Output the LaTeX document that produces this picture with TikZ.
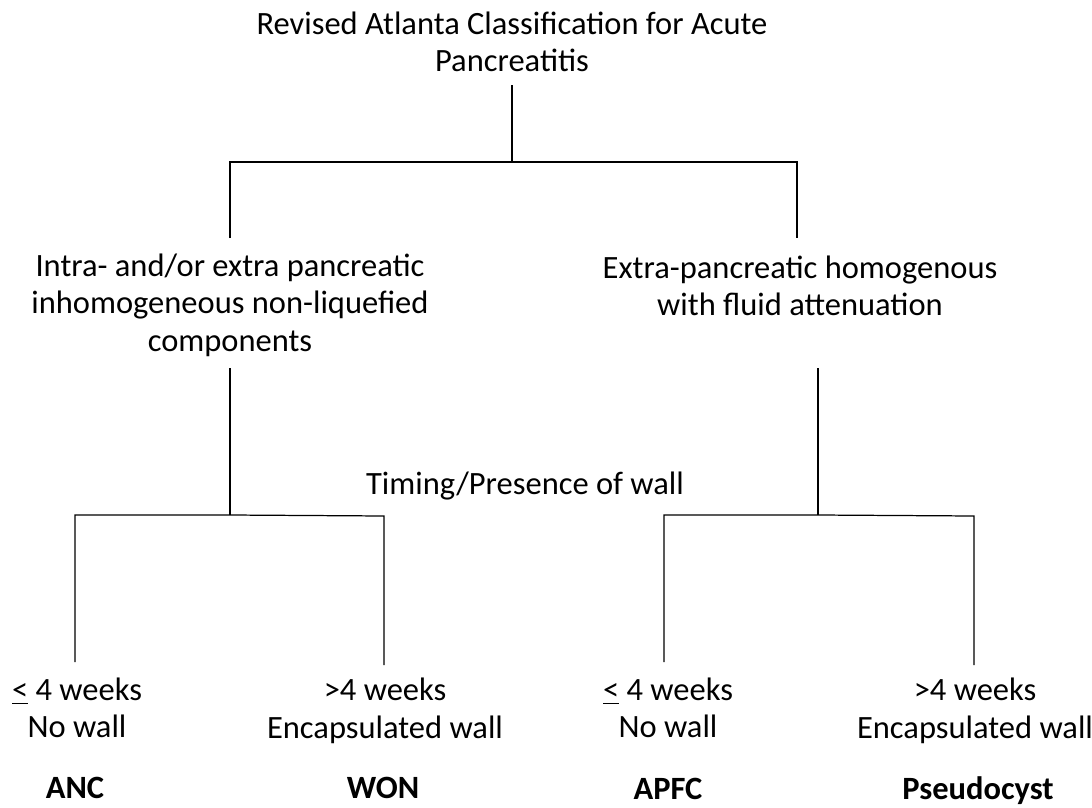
\documentclass[tikz,border=0pt]{standalone}
\usepackage{fontspec}
\setmainfont{Carlito}
\usetikzlibrary{positioning}
\tikzset{
  label/.style={align=center,inner sep=0pt,font=\fontsize{18.5}{21.3}\selectfont},
  result/.style={anchor=base,inner sep=0pt,font=\fontsize{18.5}{21.3}\selectfont\bfseries},
  branch/.style={draw=black,line width=0.7pt}
}

\begin{document}
\begin{tikzpicture}[x=0.02cm,y=-0.02cm]
  \useasboundingbox (0,0) rectangle (1092,808);
  % text
  \node[label] (title) at (512,42) {Revised Atlanta Classification for Acute\\Pancreatitis};
  \node[label] (necro) at (230,305) {Intra- and/or extra pancreatic\\inhomogeneous non-liquefied\\components};
  \node[label] (fluid) at (800,286) {Extra-pancreatic homogenous\\with fluid attenuation};
  \node[label] (timing) at (525,486) {Timing/Presence of wall};
  \node[label] (anc) at (77,708) {\underline{<} 4 weeks\\No wall};
  \node[label] (won) at (385,711) {>4 weeks\\Encapsulated wall};
  \node[label] (apfc) at (668,708) {\underline{<} 4 weeks\\No wall};
  \node[label] (pseudo) at (975,711) {>4 weeks\\Encapsulated wall};
  \node[result] (ancname) at (75,798) {ANC};
  \node[result] (wonname) at (383,798) {WON};
  \node[result] (apfcname) at (668,799) {APFC};
  \node[result] (pseudoname) at (978,799) {Pseudocyst};
  % junctions
  \coordinate (top) at (512,85);
  \coordinate (split) at (512,162);
  \coordinate (leftup) at (230,162);
  \coordinate (rightup) at (797,162);
  \coordinate (leftend) at (230,238);
  \coordinate (rightend) at (797,238);
  \coordinate (necrobot) at (230,368);
  \coordinate (necrosplit) at (230,515);
  \coordinate (fluidbot) at (818,368);
  \coordinate (fluidsplit) at (818,515);
  \coordinate (ancup) at (75,515);
  \coordinate (ancend) at (75,662);
  \coordinate (wonup) at (384,516);
  \coordinate (wonend) at (384,665);
  \coordinate (apfcup) at (664,515);
  \coordinate (apfcend) at (664,662);
  \coordinate (pseudoup) at (974,516);
  \coordinate (pseudoend) at (974,665);
  % tree
  \draw[branch] (top) -- (split);
  \draw[branch] (leftend) -- (leftup) -- (rightup) -- (rightend);
  \draw[branch] (necrobot) -- (necrosplit);
  \draw[branch] (ancend) -- (ancup) -- (necrosplit) -- (wonup) -- (wonend);
  \draw[branch] (fluidbot) -- (fluidsplit);
  \draw[branch] (apfcend) -- (apfcup) -- (fluidsplit) -- (pseudoup) -- (pseudoend);
\end{tikzpicture}
\end{document}
